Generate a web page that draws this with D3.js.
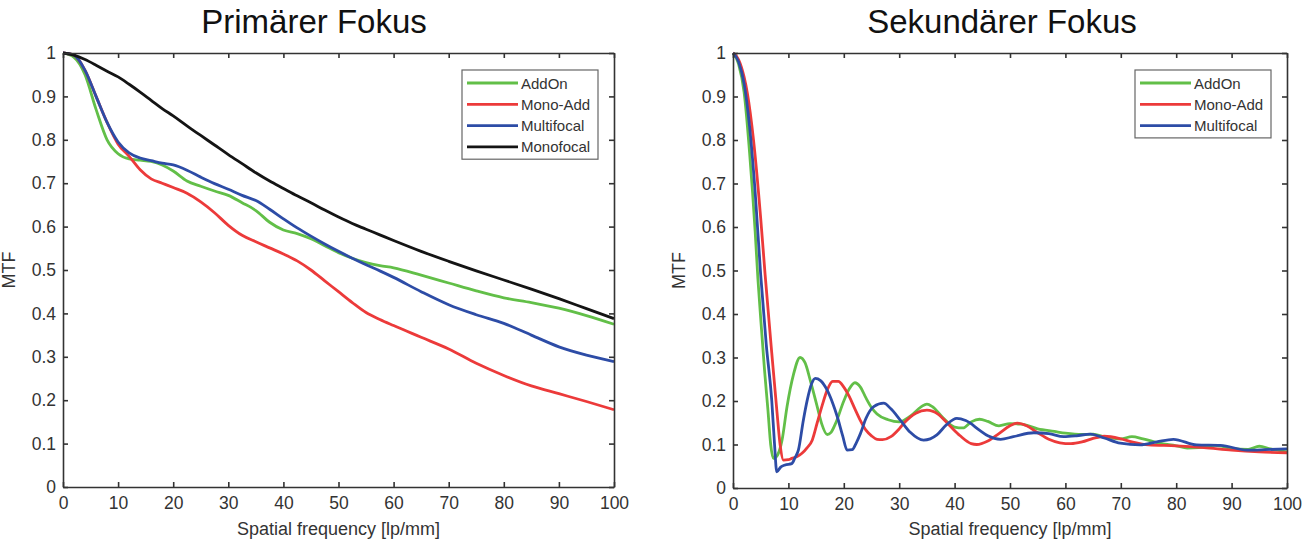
<!DOCTYPE html>
<html>
  <head>
    <meta charset="utf-8"/>
    <style>
      body { margin: 0; background: #fff; }
      text { font-family: "Liberation Sans", Arial, sans-serif; }
    </style>
  </head>
  <body>
    <script src="https://cdn.jsdelivr.net/npm/d3@7"></script>
    <script type="text/javascript">
      var width = 1309, height = 544;

      // Primärer Fokus - shared frequency grid
      var primFreq = [0,2,4,6,8,10,12,14,16,18,20,22.5,25,27.5,30,32.5,35,37.5,40,42.5,45,47.5,50,52.5,55,57.5,60,65,70,75,80,85,90,95,100];
      var primAddOn = [1,0.99,0.95,0.87,0.80,0.768,0.756,0.753,0.75,0.742,0.728,0.705,0.693,0.682,0.672,0.655,0.637,0.61,0.592,0.584,0.572,0.556,0.54,0.527,0.517,0.51,0.505,0.488,0.47,0.452,0.436,0.425,0.412,0.395,0.375];
      var primMonoAdd = [1,0.995,0.96,0.9,0.84,0.79,0.762,0.731,0.71,0.70,0.69,0.677,0.657,0.632,0.603,0.58,0.565,0.551,0.537,0.521,0.50,0.475,0.45,0.425,0.402,0.386,0.372,0.345,0.318,0.285,0.257,0.233,0.215,0.197,0.178];
      var primMultifocal = [1,0.995,0.96,0.9,0.84,0.795,0.77,0.758,0.752,0.746,0.742,0.73,0.714,0.699,0.686,0.672,0.66,0.64,0.618,0.597,0.578,0.56,0.543,0.527,0.512,0.498,0.483,0.45,0.42,0.397,0.377,0.35,0.323,0.304,0.289];
      var primMonofocal = [1,0.995,0.985,0.972,0.958,0.945,0.928,0.91,0.891,0.872,0.855,0.832,0.81,0.788,0.766,0.745,0.724,0.705,0.688,0.671,0.655,0.638,0.622,0.607,0.594,0.581,0.568,0.543,0.52,0.498,0.477,0.456,0.434,0.411,0.388];

      // Sekundärer Fokus - [frequency, MTF]
      var sekAddOn = [[0,1],[1,0.975],[2,0.91],[3,0.77],[4,0.59],[4.5,0.48],[5,0.39],[5.7,0.27],[6.3,0.18],[6.8,0.1],[7.3,0.068],[8,0.075],[8.85,0.11],[9.75,0.187],[10.9,0.26],[12.1,0.3],[13,0.288],[14,0.245],[15.2,0.187],[16,0.148],[17,0.123],[17.7,0.128],[18.5,0.148],[20,0.2],[21,0.228],[22,0.242],[23,0.232],[24,0.207],[25,0.185],[26,0.17],[28,0.157],[30,0.152],[32,0.165],[34,0.187],[35,0.193],[36,0.187],[38,0.16],[40,0.14],[41.5,0.138],[43,0.152],[44.5,0.158],[46,0.153],[48,0.143],[50,0.148],[52,0.147],[55,0.136],[58,0.13],[60,0.126],[63,0.123],[65,0.124],[67,0.118],[70,0.113],[72,0.118],[74,0.113],[77,0.103],[80,0.097],[82,0.092],[84,0.093],[87,0.098],[90,0.091],[93,0.089],[95,0.096],[97,0.09],[100,0.083]];
      var sekMonoAdd = [[0,1],[1,0.985],[2,0.945],[2.6,0.907],[3.7,0.8],[5,0.62],[5.8,0.49],[7,0.31],[7.9,0.18],[8.5,0.1],[9.1,0.064],[10,0.065],[10.6,0.068],[11.5,0.072],[12.45,0.08],[13.4,0.093],[14.3,0.11],[15.2,0.15],[16.1,0.19],[17,0.225],[18,0.245],[19,0.245],[20,0.232],[21,0.21],[22,0.182],[23,0.155],[24,0.133],[25,0.12],[26,0.112],[27,0.111],[28.5,0.118],[30,0.136],[31,0.151],[33,0.172],[35,0.179],[37,0.17],[39,0.145],[41,0.12],[43,0.102],[44,0.1],[46,0.108],[48,0.125],[50,0.143],[51.3,0.149],[53,0.143],[55,0.127],[57,0.112],[59,0.104],[61,0.102],[63,0.106],[65,0.114],[67,0.119],[70,0.113],[72,0.106],[75,0.099],[80,0.097],[85,0.093],[90,0.087],[95,0.083],[100,0.081]];
      var sekMultifocal = [[0,1],[1,0.98],[2,0.93],[3,0.83],[4,0.68],[5,0.49],[6,0.33],[7,0.2],[7.5,0.1],[7.9,0.037],[8.6,0.048],[9.4,0.053],[10.6,0.056],[11.2,0.07],[11.8,0.087],[12.7,0.156],[13.4,0.202],[14.2,0.24],[14.85,0.252],[15.8,0.247],[17,0.225],[18,0.195],[18.8,0.165],[19.8,0.12],[20.6,0.087],[21.5,0.088],[22.3,0.105],[23,0.125],[24,0.16],[25.4,0.187],[27.2,0.195],[28.5,0.182],[30.2,0.156],[32,0.128],[34.4,0.11],[36.8,0.122],[38.5,0.145],[40.4,0.16],[42,0.155],[44.6,0.132],[46,0.12],[48.3,0.112],[50.6,0.118],[54.3,0.127],[57,0.125],[59.7,0.118],[62,0.12],[64.5,0.124],[67,0.115],[69.9,0.103],[73.5,0.099],[76.5,0.106],[79.5,0.112],[83.7,0.099],[88,0.098],[92.8,0.087],[96,0.088],[100,0.09]];

      var seriesNames = ["AddOn", "Mono-Add", "Multifocal", "Monofocal"];
      var seriesColors = ["#62bf48", "#ec3a3a", "#2d4ca6", "#141414"];

      var xTicks = d3.range(0, 101, 10);
      var yTicks = d3.range(0, 11).map(function(i) { return i / 10; });

      var svg = d3.select("body")
                  .append("svg")
                  .attr("width", width)
                  .attr("height", height)
                  .attr("xmlns", "http://www.w3.org/2000/svg");

      function zipFreq(vals) {
        return primFreq.map(function(f, i) { return [f, vals[i]]; });
      }

      var panels = [
        {title: "Primärer Fokus", titleX: 314, left: 63, right: 614, top: 53, bottom: 487,
         series: [zipFreq(primAddOn), zipFreq(primMonoAdd), zipFreq(primMultifocal), zipFreq(primMonofocal)]},
        {title: "Sekundärer Fokus", titleX: 1002, left: 733, right: 1287, top: 53, bottom: 488,
         series: [sekAddOn, sekMonoAdd, sekMultifocal]}
      ];

      panels.forEach(function(p) {
        var x = d3.scaleLinear().domain([0, 100]).range([p.left, p.right]);
        var y = d3.scaleLinear().domain([0, 1]).range([p.bottom, p.top]);
        var g = svg.append("g");

        g.append("text")
         .attr("x", p.titleX).attr("y", 33)
         .attr("text-anchor", "middle")
         .attr("font-size", 33)
         .attr("fill", "#111")
         .text(p.title);

        var line = d3.line()
                     .x(function(d) { return x(d[0]); })
                     .y(function(d) { return y(d[1]); })
                     .curve(d3.curveMonotoneX);

        p.series.forEach(function(s, i) {
          g.append("path")
           .datum(s)
           .attr("d", line)
           .attr("fill", "none")
           .attr("stroke", seriesColors[i])
           .attr("stroke-width", 2.8)
           .attr("stroke-linejoin", "round");
        });

        var fmt = d3.format("~g");
        var axes = [
          {ax: d3.axisBottom(x).tickValues(xTicks).tickFormat(fmt).tickPadding(10), tr: "translate(0," + p.bottom + ")"},
          {ax: d3.axisTop(x).tickValues(xTicks).tickFormat(""), tr: "translate(0," + p.top + ")"},
          {ax: d3.axisLeft(y).tickValues(yTicks).tickFormat(fmt).tickPadding(7), tr: "translate(" + p.left + ",0)"},
          {ax: d3.axisRight(y).tickValues(yTicks).tickFormat(""), tr: "translate(" + p.right + ",0)"}
        ];
        axes.forEach(function(a) {
          var ag = g.append("g")
                    .attr("transform", a.tr)
                    .call(a.ax.tickSizeInner(-5).tickSizeOuter(0));
          ag.select(".domain").attr("stroke", "#333").attr("stroke-width", 1.6);
          ag.selectAll(".tick line").attr("stroke", "#333").attr("stroke-width", 1.6);
          ag.selectAll(".tick text")
            .attr("font-size", 17.5)
            .attr("fill", "#333")
            .style("font-family", "'Liberation Sans', Arial, sans-serif");
        });

        g.append("text")
         .attr("x", (p.left + p.right) / 2).attr("y", 535)
         .attr("text-anchor", "middle")
         .attr("font-size", 18)
         .attr("fill", "#333")
         .text("Spatial frequency [lp/mm]");

        g.append("text")
         .attr("transform", "translate(" + (p.left - 48) + "," + ((p.top + p.bottom) / 2) + ") rotate(-90)")
         .attr("text-anchor", "middle")
         .attr("font-size", 18)
         .attr("fill", "#333")
         .text("MTF");

        // legend
        var n = p.series.length;
        var lx = p.right - 152, ly = p.top + 17, rowH = 21.3;
        var lg = g.append("g");
        lg.append("rect")
          .attr("x", lx).attr("y", ly)
          .attr("width", 136).attr("height", n * rowH + 4)
          .attr("fill", "#fff")
          .attr("stroke", "#666")
          .attr("stroke-width", 1.2);
        for (var i = 0; i < n; i++) {
          var cy = ly + 13 + i * rowH;
          lg.append("line")
            .attr("x1", lx + 5).attr("x2", lx + 56)
            .attr("y1", cy).attr("y2", cy)
            .attr("stroke", seriesColors[i])
            .attr("stroke-width", 2.8);
          lg.append("text")
            .attr("x", lx + 59).attr("y", cy + 5.5)
            .attr("font-size", 15)
            .attr("fill", "#333")
            .text(seriesNames[i]);
        }
      });
    </script>
  </body>
</html>
